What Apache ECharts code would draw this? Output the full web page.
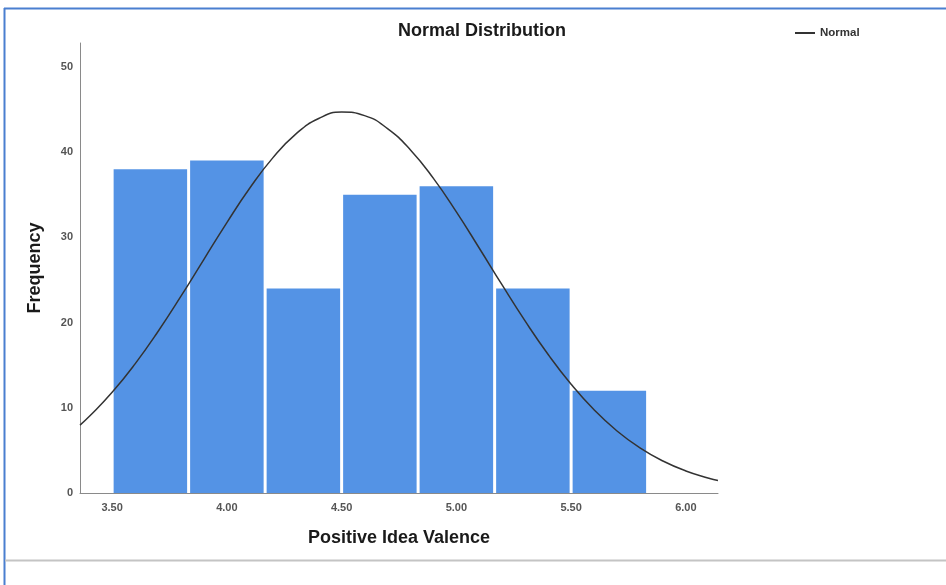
<!DOCTYPE html>
<html>
<head>
<meta charset="utf-8">
<script src="https://cdn.jsdelivr.net/npm/echarts@6/dist/echarts.min.js"></script>
<style>
  html, body { margin: 0; padding: 0; background: #ffffff; }
  #chart { width: 946px; height: 585px; }
</style>
</head>
<body>
<div id="chart"></div>
<script>
// Histogram bins of Positive Idea Valence (bin width 1/3)
const binStarts = [3.5, 3.8333, 4.1667, 4.5, 4.8333, 5.1667, 5.5];
const binEnds   = [3.8333, 4.1667, 4.5, 4.8333, 5.1667, 5.5, 5.8333];
const frequency = [38, 39, 24, 35, 36, 24, 12];

// Fitted normal curve, sampled along the axis
const curveX = [3.36, 3.4, 3.5, 3.6, 3.7, 3.8, 3.9, 4.0, 4.1, 4.2, 4.3, 4.4, 4.5, 4.6, 4.7,
                4.8, 4.9, 5.0, 5.1, 5.2, 5.3, 5.4, 5.5, 5.6, 5.7, 5.8, 5.9, 6.0, 6.1, 6.14];
const curveY = [7.97, 8.97, 11.81, 15.15, 18.95, 23.09, 27.42, 31.73, 35.78, 39.32, 42.11, 43.94,
                44.69, 44.28, 42.76, 40.25, 36.91, 32.98, 28.72, 24.38, 20.16, 16.25, 12.76, 9.76,
                7.28, 5.29, 3.75, 2.59, 1.74, 1.47];

// Axis tick labels
const xTickValues = [3.5, 4.0, 4.5, 5.0, 5.5, 6.0];
const yTickValues = [0, 10, 20, 30, 40, 50];

const barColor = '#5493e5';
const font = '"Liberation Sans", Arial, sans-serif';

const histData = binStarts.map((s, i) => [s, binEnds[i], frequency[i]]);
const curveData = curveX.map((x, i) => [x, curveY[i]]);

const chart = echarts.init(document.getElementById('chart'), null, { renderer: 'canvas' });

chart.setOption({
  backgroundColor: '#ffffff',
  animation: false,
  title: {
    text: 'Normal Distribution',
    left: 477,
    top: 17,
    textAlign: 'center',
    textStyle: { fontFamily: font, fontSize: 18, fontWeight: 'bold', color: '#1a1a1a' }
  },
  legend: {
    left: 790,
    top: 22,
    itemWidth: 20,
    itemHeight: 2,
    data: [{ name: 'Normal', icon: 'rect' }],
    textStyle: { fontFamily: font, fontSize: 11.5, fontWeight: 'bold', color: '#333' }
  },
  grid: { left: 80, right: 228, top: 43, bottom: 92 },
  xAxis: {
    type: 'value',
    min: 3.36,
    max: 6.14,
    name: 'Positive Idea Valence',
    nameLocation: 'middle',
    nameGap: 36,
    nameTextStyle: { fontFamily: font, fontSize: 18, fontWeight: 'bold', color: '#1a1a1a' },
    axisLine: { show: true, lineStyle: { color: '#8a8a8a', width: 1 } },
    axisTick: { show: false },
    splitLine: { show: false },
    axisLabel: {
      customValues: xTickValues,
      margin: 9,
      fontFamily: font,
      fontSize: 11,
      fontWeight: 'bold',
      color: '#555',
      formatter: v => v.toFixed(2)
    }
  },
  yAxis: {
    type: 'value',
    min: 0,
    max: 52.8,
    name: 'Frequency',
    nameLocation: 'middle',
    nameGap: 36,
    nameTextStyle: { fontFamily: font, fontSize: 18, fontWeight: 'bold', color: '#1a1a1a' },
    axisLine: { show: true, lineStyle: { color: '#8a8a8a', width: 1 } },
    axisTick: { show: false },
    splitLine: { show: false },
    axisLabel: {
      customValues: yTickValues,
      margin: 7,
      fontFamily: font,
      fontSize: 11,
      fontWeight: 'bold',
      color: '#555'
    }
  },
  series: [
    {
      name: 'Frequency',
      type: 'custom',
      data: histData,
      encode: { x: [0, 1], y: 2 },
      renderItem: function (params, api) {
        const top = api.coord([api.value(0), api.value(2)]);
        const bottom = api.coord([api.value(1), 0]);
        return {
          type: 'rect',
          shape: {
            x: top[0] + 1.5,
            y: top[1],
            width: bottom[0] - top[0] - 3,
            height: bottom[1] - top[1]
          },
          style: { fill: barColor }
        };
      },
      z: 1
    },
    {
      name: 'Normal',
      type: 'line',
      data: curveData,
      smooth: true,
      symbol: 'none',
      lineStyle: { color: '#333333', width: 1.5 },
      itemStyle: { color: '#333333' },
      z: 3
    }
  ],
  graphic: [
    { type: 'line', shape: { x1: 4, y1: 8.5, x2: 946, y2: 8.5 }, style: { stroke: '#4a7fd0', lineWidth: 2 } },
    { type: 'line', shape: { x1: 4.5, y1: 8, x2: 4.5, y2: 585 }, style: { stroke: '#4a7fd0', lineWidth: 2 } },
    { type: 'line', shape: { x1: 5, y1: 560.5, x2: 946, y2: 560.5 }, style: { stroke: '#c4c4c4', lineWidth: 2 } }
  ]
});
</script>
</body>
</html>
